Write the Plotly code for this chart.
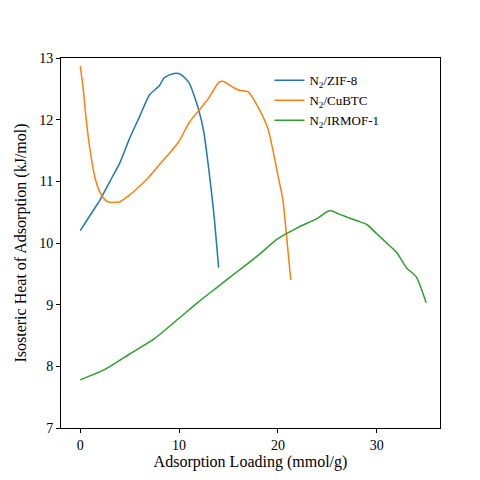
import plotly.graph_objects as go

zif_x = [0,1,2,3,4,5,6,7,8,8.5,9.5,10.2,11,11.5,12,12.5,13,13.5,14]
zif_y = [10.2,10.45,10.7,11.0,11.3,11.7,12.05,12.4,12.55,12.68,12.75,12.73,12.6,12.4,12.15,11.8,11.2,10.5,9.6]
cu_x = [0,0.3,0.6,1,1.5,2,2.5,3,4,5,6,7,8,9,10,11,12,13,14,14.5,15,16,17,18,19,19.5,20,20.5,21,21.3]
cu_y = [12.87,12.5,12.0,11.5,11.05,10.82,10.7,10.66,10.67,10.78,10.92,11.08,11.27,11.45,11.65,11.95,12.15,12.35,12.6,12.62,12.57,12.48,12.45,12.2,11.85,11.5,11.1,10.7,9.9,9.4]
ir_x = [0,2.5,5,7.5,10,12,14,16,18,20,22,24,25,25.5,26,27,28,29,30,31,32,33,34,35]
ir_y = [7.78,7.95,8.2,8.45,8.78,9.05,9.3,9.55,9.8,10.07,10.25,10.4,10.51,10.52,10.48,10.42,10.36,10.3,10.15,10.0,9.85,9.6,9.45,9.03]

fig = go.Figure()
ls = dict(width=1.5, shape="spline", smoothing=0.6)
fig.add_trace(go.Scatter(x=zif_x, y=zif_y, mode="lines", line=dict(color="#1f77b4", **ls), name="N<sub>2</sub>/ZIF-8"))
fig.add_trace(go.Scatter(x=cu_x, y=cu_y, mode="lines", line=dict(color="#ff7f0e", **ls), name="N<sub>2</sub>/CuBTC"))
fig.add_trace(go.Scatter(x=ir_x, y=ir_y, mode="lines", line=dict(color="#2ca02c", **ls), name="N<sub>2</sub>/IRMOF-1"))

ax = dict(showgrid=False, zeroline=False, showline=True, linecolor="black", linewidth=1, mirror=True,
          ticks="outside", ticklen=4, tickcolor="black", tickfont=dict(size=14))
fig.update_layout(
    width=480, height=480, plot_bgcolor="white", paper_bgcolor="white",
    font=dict(family="Liberation Serif, DejaVu Serif, serif", color="black", size=14),
    margin=dict(l=51, r=48, t=50, b=60),
    xaxis=dict(range=[-1.95, 36.4], tickvals=[0,10,20,30], title=dict(text="Adsorption Loading (mmol/g)", font=dict(size=16), standoff=4), **ax),
    yaxis=dict(range=[7, 13], tickvals=[7,8,9,10,11,12,13], title=dict(text="Isosteric Heat of Adsorption (kJ/mol)", font=dict(size=16), standoff=8), **ax),
    legend=dict(x=0.55, y=0.98, xanchor="left", yanchor="top", bgcolor="rgba(0,0,0,0)", font=dict(size=13)),
    showlegend=True,
)
fig.write_html("out.html")
